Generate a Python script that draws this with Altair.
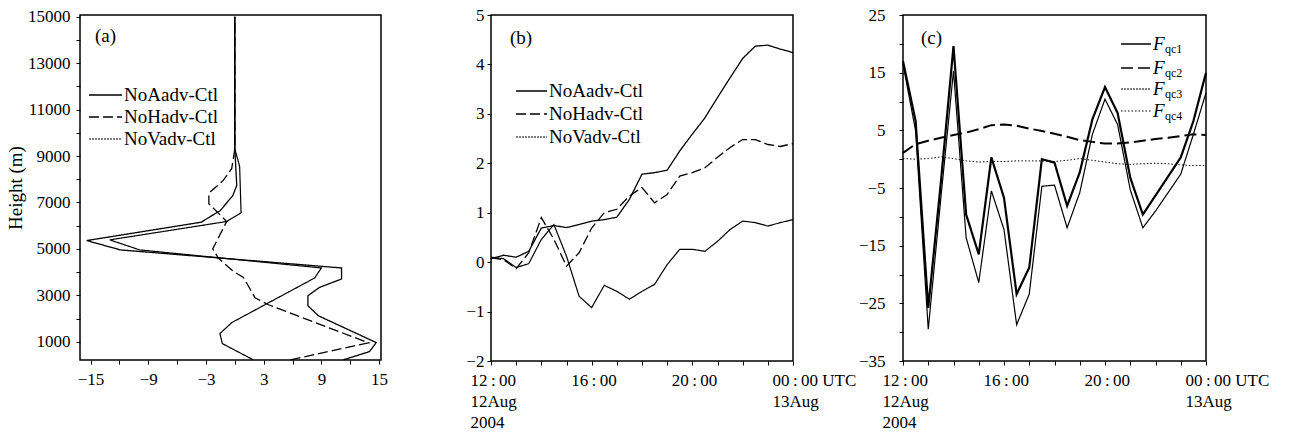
import altair as alt
import pandas as pd

FONT = "Liberation Serif"

# ---------------- Panel (a): vertical profiles (value vs height) ----------------
a_aadv_height = [15000, 9300, 7736, 7304, 6657, 6151, 5361, 4959, 4182, 3707, 3345, 2986, 2554, 2122, 970, 581, 230]
a_aadv_value = [0.0, 0.0, 0.2, -0.2, -1.5, -3.5, -15.4, -11.9, 11.1, 11.1, 8.8, 7.6, 7.6, 8.7, 14.7, 14.0, 11.3]

a_hadv_height = [15000, 9300, 8455, 7951, 7400, 6946, 6181, 5003, 4600, 4035, 3776, 2900, 2598, 960, 230]
a_hadv_value = [0.0, 0.0, -0.33, -1.2, -2.7, -2.7, -0.85, -2.3, -1.7, -0.16, 0.9, 2.1, 3.5, 13.9, 5.8]

a_vadv_height = [15000, 9300, 8556, 6557, 6181, 5391, 4959, 4182, 3750, 1834, 1359, 927, 230]
a_vadv_value = [0.0, 0.0, 0.5, 0.65, -0.85, -13.0, -9.9, 9.0, 8.3, -0.3, -1.55, -1.3, 1.9]

# ---------------- Panel (b): time series (hours after 12:00 UTC 12 Aug 2004) ----------------
hours = [0, 0.5, 1, 1.5, 2, 2.5, 3, 3.5, 4, 4.5, 5, 5.5, 6, 6.5, 7, 7.5, 8, 8.5, 9, 9.5, 10, 10.5, 11, 11.5, 12]
b_aadv = [0.07, 0.14, 0.10, 0.22, 0.69, 0.74, 0.70, 0.76, 0.83, 0.86, 0.91, 1.27, 1.78, 1.81, 1.86, 2.25,
          2.59, 2.92, 3.33, 3.73, 4.12, 4.37, 4.39, 4.31, 4.24]
b_hadv = [0.09, 0.05, -0.13, 0.19, 0.90, 0.46, -0.08, 0.19, 0.69, 1.00, 1.07, 1.34, 1.51, 1.20, 1.37, 1.74,
          1.81, 1.91, 2.12, 2.32, 2.48, 2.48, 2.38, 2.34, 2.40]
b_vadv = [0.10, 0.07, -0.11, -0.03, 0.46, 0.76, 0.12, -0.69, -0.92, -0.47, -0.59, -0.75, -0.59, -0.45, -0.05,
          0.26, 0.26, 0.22, 0.42, 0.66, 0.83, 0.80, 0.73, 0.80, 0.86]

# ---------------- Panel (c): F_qc terms ----------------
c_f1 = [17.0, 6.6, -25.8, -4.0, 19.6, -9.6, -16.5, 0.3, -6.7, -23.4, -18.8, 0.0, -0.6, -8.1, -2.3, 6.9,
        12.5, 8.0, -3.2, -9.6, -6.3, -3.0, 0.3, 6.6, 15.0]
c_f2 = [1.1, 2.6, 3.2, 3.7, 4.2, 4.6, 5.2, 5.9, 6.0, 5.8, 5.3, 4.9, 4.4, 3.9, 3.3, 3.0,
        2.7, 2.7, 2.9, 3.2, 3.5, 3.7, 4.0, 4.3, 4.2]
c_f3 = [16.5, 4.9, -29.5, -6.7, 15.3, -13.6, -21.4, -5.5, -12.2, -28.7, -23.4, -4.7, -4.5, -11.9, -5.8, 4.3,
        10.4, 6.0, -5.3, -11.9, -9.0, -5.8, -2.6, 4.3, 11.5]
c_f4 = [0.1, 0.0, 0.1, 0.4, 0.1, -0.3, -0.5, -0.4, -0.4, -0.3, -0.3, -0.3, -0.4, -0.2, 0.1, -0.2,
        -0.5, -0.8, -0.9, -0.8, -0.7, -0.8, -1.0, -1.1, -1.1]

a_names = ["NoAadv-Ctl", "NoHadv-Ctl", "NoVadv-Ctl"]
c_subs = ["qc1", "qc2", "qc3", "qc4"]

# styles
DASH_A = [[1, 0], [10, 4], [1, 0]]
LEG_DASH_A = [[1, 0], [10, 4], [2, 1]]
WIDTH_A = [1.3, 1.3, 1.2]
DASH_C = [[1, 0], [12, 5], [1, 0], [1.5, 2]]
WIDTH_C = [2.2, 2.0, 1.2, 1.0]


def base_axis(**kw):
    d = dict(grid=False, domain=False, ticks=True, tickColor="black", tickSize=4, tickWidth=1,
             labelFont=FONT, labelFontSize=17, labelColor="black", labelOverlap=False,
             labelFlush=False, labelBound=False, title=None)
    d.update(kw)
    return alt.Axis(**d)


TIME_LABELS = ("datum.value == 0 ? ['12\u2009:\u200900', '12Aug', '2004'] : "
               "datum.value == 4 ? '16\u2009:\u200900' : datum.value == 8 ? '20\u2009:\u200900' : "
               "datum.value == 12 ? ['00\u2009:\u200900  UTC', '13Aug'] : ''")


def time_axis():
    return base_axis(values=list(range(13)), labelExpr=TIME_LABELS, labelAlign="left",
                     labelOffset=-21, labelPadding=7, labelLineHeight=21, labelBaseline="top")


def legend_layers(names, dashes, widths, x0, x1, ys, tx, size=19):
    layers = []
    for name, dash, w, y in zip(names, dashes, widths, ys):
        df = pd.DataFrame({"name": [name]})
        layers.append(alt.Chart(df).mark_rule(color="black", strokeWidth=w, strokeDash=dash).encode(
            x=alt.value(x0), x2=alt.value(x1), y=alt.value(y)))
        layers.append(alt.Chart(df).mark_text(font=FONT, fontSize=size, align="left", baseline="middle",
                                              color="black").encode(
            x=alt.value(tx), y=alt.value(y), text="name:N"))
    return layers


def panel_label(txt, x, y):
    df = pd.DataFrame({"t": [txt]})
    return alt.Chart(df).mark_text(font=FONT, fontSize=19, align="left", baseline="middle",
                                   color="black").encode(x=alt.value(x), y=alt.value(y), text="t:N")


# ---------- Panel (a) ----------
a_xscale = alt.Scale(domain=[-16.1, 15.2], nice=False, zero=False)
a_yscale = alt.Scale(domain=[220, 15070], nice=False, zero=False)
a_layers = []
for name, hs, vs, dash, w in zip(a_names, [a_aadv_height, a_hadv_height, a_vadv_height],
                                 [a_aadv_value, a_hadv_value, a_vadv_value], DASH_A, WIDTH_A):
    df = pd.DataFrame({"height": hs, "value": vs, "series": name})
    a_layers.append(alt.Chart(df).mark_line(color="black", strokeWidth=w, strokeDash=dash).encode(
        x=alt.X("value:Q", scale=a_xscale,
                axis=base_axis(values=list(range(-15, 16, 3)), labelPadding=7,
                               labelExpr="(datum.value + 15) % 6 == 0 ? datum.label : ''")),
        y=alt.Y("height:Q", scale=a_yscale,
                axis=base_axis(values=list(range(1000, 16000, 1000)), format="d", labelPadding=6,
                               labelExpr="datum.value % 2000 == 1000 ? datum.label : ''",
                               title="Height (m)", titleFont=FONT, titleFontSize=19,
                               titleFontWeight="normal", titleColor="black", titlePadding=2)),
        order=alt.Order("height:Q")))

panel_a = alt.layer(*a_layers, panel_label("(a)", 15, 21),
                    *legend_layers(a_names, LEG_DASH_A, WIDTH_A, 9, 42, [80, 102, 124], 44)
                    ).properties(width=301, height=345)

# ---------- Panel (b) ----------
t_scale = alt.Scale(domain=[0, 12], nice=False, zero=False)
b_yscale = alt.Scale(domain=[-2, 5], nice=False, zero=False)
b_layers = []
for name, vs, dash, w in zip(a_names, [b_aadv, b_hadv, b_vadv], DASH_A, WIDTH_A):
    df = pd.DataFrame({"hour": hours, "value": vs, "series": name})
    b_layers.append(alt.Chart(df).mark_line(color="black", strokeWidth=w, strokeDash=dash).encode(
        x=alt.X("hour:Q", scale=t_scale, axis=time_axis()),
        y=alt.Y("value:Q", scale=b_yscale,
                axis=base_axis(values=[v / 2 for v in range(-4, 11)], format="d", labelPadding=3,
                               labelExpr="datum.value % 1 == 0 ? datum.label : ''"))))

panel_b = alt.layer(*b_layers, panel_label("(b)", 19, 23),
                    *legend_layers(a_names, LEG_DASH_A, WIDTH_A, 25, 56, [76, 99, 122], 58)
                    ).properties(width=302, height=346)

# ---------- Panel (c) ----------
c_yscale = alt.Scale(domain=[-35, 25], nice=False, zero=False)
c_layers = []
for sub, vs, dash, w in zip(c_subs, [c_f1, c_f2, c_f3, c_f4], DASH_C, WIDTH_C):
    df = pd.DataFrame({"hour": hours, "value": vs, "series": "F" + sub})
    c_layers.append(alt.Chart(df).mark_line(color="black", strokeWidth=w, strokeDash=dash).encode(
        x=alt.X("hour:Q", scale=t_scale, axis=time_axis()),
        y=alt.Y("value:Q", scale=c_yscale,
                axis=base_axis(values=list(range(-35, 26, 5)), format="d", labelPadding=14,
                               labelExpr="(datum.value + 35) % 10 == 0 ? datum.label : ''"))))

c_leg = []
c_leg_y = [29, 53, 74, 96]
c_leg_dash = [[1, 0], [12, 5], [2, 1], [1.5, 2]]
for sub, dash, w, y in zip(c_subs, c_leg_dash, [1.5, 1.5, 1.0, 1.0], c_leg_y):
    df = pd.DataFrame({"f": ["F"], "s": [sub]})
    c_leg.append(alt.Chart(df).mark_rule(color="black", strokeWidth=w, strokeDash=dash).encode(
        x=alt.value(218), x2=alt.value(248), y=alt.value(y)))
    c_leg.append(alt.Chart(df).mark_text(font=FONT, fontSize=19, fontStyle="italic", align="left",
                                         baseline="middle", color="black").encode(
        x=alt.value(250), y=alt.value(y), text="f:N"))
    c_leg.append(alt.Chart(df).mark_text(font=FONT, fontSize=12, align="left",
                                         baseline="middle", color="black").encode(
        x=alt.value(262), y=alt.value(y + 5), text="s:N"))

panel_c = alt.layer(*c_layers, panel_label("(c)", 18, 23), *c_leg).properties(width=303, height=346)

chart = alt.hconcat(panel_a, panel_b, panel_c, spacing=110, bounds="flush").properties(
    padding={"left": 5, "top": 5, "right": 5, "bottom": 5}
).configure_view(stroke="black", strokeWidth=1.5)

chart.save("out.html", embed_options={"renderer": "svg", "actions": False})
